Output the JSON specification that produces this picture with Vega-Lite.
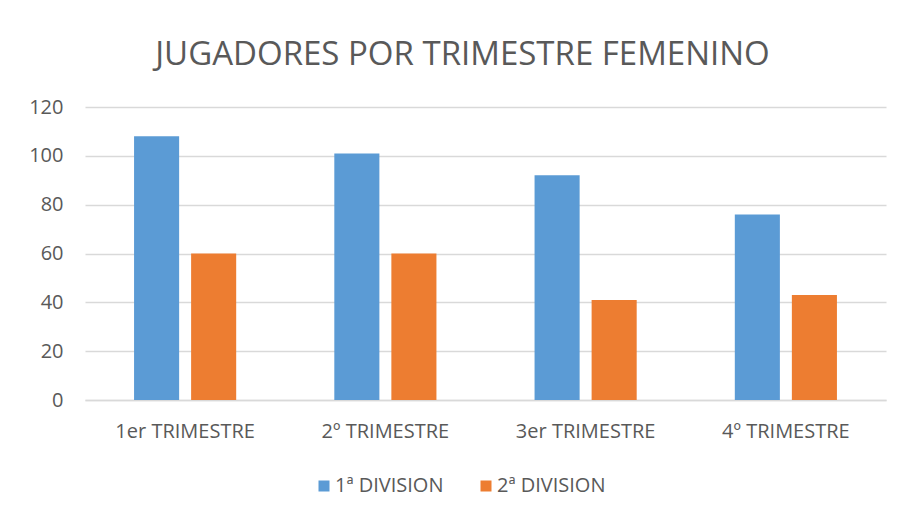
{
  "$schema": "https://vega.github.io/schema/vega-lite/v6.json",
  "width": 801,
  "height": 293,
  "autosize": {"type": "none"},
  "padding": {"left": 85, "top": 107, "right": 16, "bottom": 115},
  "background": "white",
  "title": {
    "text": "JUGADORES POR TRIMESTRE FEMENINO",
    "font": "Open Sans",
    "fontSize": 33,
    "fontWeight": "normal",
    "color": "#595959",
    "anchor": "middle",
    "baseline": "alphabetic",
    "dx": -23,
    "offset": -1
  },
  "data": {
    "values": [
      {"trimestre": "1er TRIMESTRE", "division": "1ª DIVISION", "jugadores": 108},
      {"trimestre": "1er TRIMESTRE", "division": "2ª DIVISION", "jugadores": 60},
      {"trimestre": "2º TRIMESTRE", "division": "1ª DIVISION", "jugadores": 101},
      {"trimestre": "2º TRIMESTRE", "division": "2ª DIVISION", "jugadores": 60},
      {"trimestre": "3er TRIMESTRE", "division": "1ª DIVISION", "jugadores": 92},
      {"trimestre": "3er TRIMESTRE", "division": "2ª DIVISION", "jugadores": 41},
      {"trimestre": "4º TRIMESTRE", "division": "1ª DIVISION", "jugadores": 76},
      {"trimestre": "4º TRIMESTRE", "division": "2ª DIVISION", "jugadores": 43}
    ]
  },
  "mark": {"type": "bar"},
  "encoding": {
    "x": {
      "field": "trimestre",
      "type": "nominal",
      "sort": null,
      "title": null,
      "scale": {"paddingInner": 0.49, "paddingOuter": 0.245},
      "axis": {
        "labelAngle": 0,
        "labelFont": "Open Sans",
        "labelFontSize": 20,
        "labelColor": "#595959",
        "labelPadding": 21,
        "ticks": false,
        "domainColor": "#d9d9d9",
        "domainWidth": 1.5
      }
    },
    "xOffset": {
      "field": "division",
      "type": "nominal",
      "scale": {"paddingInner": 0.21, "paddingOuter": 0}
    },
    "y": {
      "field": "jugadores",
      "type": "quantitative",
      "title": null,
      "scale": {"domain": [0, 120]},
      "axis": {
        "values": [0, 20, 40, 60, 80, 100, 120],
        "labelFont": "Open Sans",
        "labelFontSize": 20,
        "labelColor": "#595959",
        "labelPadding": 22,
        "ticks": false,
        "domain": false,
        "gridColor": "#d9d9d9",
        "gridWidth": 1.5
      }
    },
    "color": {
      "field": "division",
      "type": "nominal",
      "scale": {"domain": ["1ª DIVISION", "2ª DIVISION"], "range": ["#5b9bd5", "#ed7d31"]},
      "legend": {
        "title": null,
        "orient": "none",
        "legendX": 229,
        "legendY": 369,
        "direction": "horizontal",
        "symbolType": "square",
        "symbolSize": 121,
        "symbolStrokeWidth": 0,
        "labelOffset": 1,
        "labelFont": "Open Sans",
        "labelFontSize": 20,
        "labelColor": "#595959",
        "columnPadding": 32
      }
    }
  },
  "config": {"view": {"stroke": null}}
}
